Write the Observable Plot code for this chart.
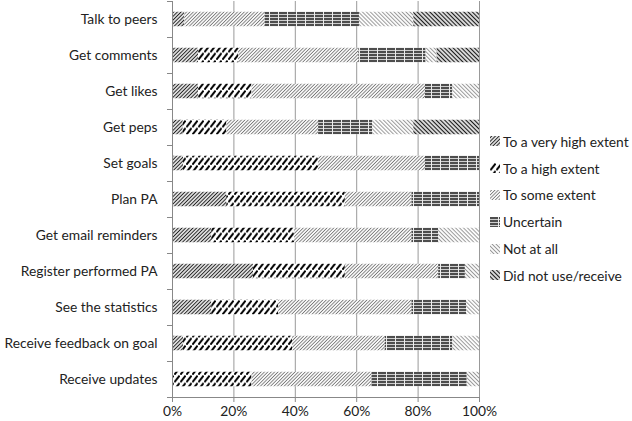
<!DOCTYPE html>
<html><head><meta charset="utf-8">
<script src="https://cdn.jsdelivr.net/npm/d3@7"></script>
<script src="https://cdn.jsdelivr.net/npm/@observablehq/plot@0.6"></script>
<style>
body{margin:0;background:#fff;}
#wrap{position:relative;width:632px;height:421px;}
#legend{position:absolute;left:490px;top:128px;font-family:Lato,sans-serif;font-size:13.8px;color:#222;}
.item{display:flex;align-items:center;height:26.8px;white-space:nowrap;}
.item svg{margin-right:3px;flex:none;}
</style></head><body>
<svg width="0" height="0" style="position:absolute">
<defs>
<pattern id="pat0" patternUnits="userSpaceOnUse" width="2.6" height="2.6" patternTransform="rotate(45)"><rect width="2.6" height="2.6" fill="#fff"/><line x1="1.3" y1="0" x2="1.3" y2="2.6" stroke="#222" stroke-width="1.15"/></pattern>
<pattern id="pat1" patternUnits="userSpaceOnUse" width="6" height="7.5"><rect width="6" height="7.5" fill="#fff"/><line x1="0.4" y1="7.2" x2="5.6" y2="0.6" stroke="#000" stroke-width="2"/></pattern>
<pattern id="pat2" patternUnits="userSpaceOnUse" width="2.4" height="2.4" patternTransform="rotate(45)"><rect width="2.4" height="2.4" fill="#fff"/><line x1="1.2" y1="0" x2="1.2" y2="2.4" stroke="#777" stroke-width="0.9"/></pattern>
<pattern id="pat3" patternUnits="userSpaceOnUse" width="9" height="3"><rect width="9" height="3" fill="#4d4d4d"/><rect y="2" width="9" height="0.9" fill="#ddd"/><rect x="8" width="1" height="3" fill="#eee"/></pattern>
<pattern id="pat4" patternUnits="userSpaceOnUse" width="2.8" height="2.8" patternTransform="rotate(-45)"><rect width="2.8" height="2.8" fill="#fff"/><line x1="1.4" y1="0" x2="1.4" y2="2.8" stroke="#999" stroke-width="1"/></pattern>
<pattern id="pat5" patternUnits="userSpaceOnUse" width="3" height="3" patternTransform="rotate(-45)"><rect width="3" height="3" fill="#fff"/><line x1="1.5" y1="0" x2="1.5" y2="3" stroke="#1a1a1a" stroke-width="1.35"/></pattern>
</defs></svg>
<div id="wrap"><div id="legend"></div></div>
<script>
const tasks = ["Talk to peers","Get comments","Get likes","Get peps","Set goals","Plan PA","Get email reminders","Register performed PA","See the statistics","Receive feedback on goal","Receive updates"];
const levels = ["To a very high extent","To a high extent","To some extent","Uncertain","Not at all","Did not use/receive"];
const veryHigh  = [4, 8.5, 8.5, 3.5, 3.6, 17.7, 12.8, 26.4, 12.8, 3.6, 0];
const high      = [0, 13, 17.4, 14.2, 44, 38.6, 27, 29.9, 21.8, 35.5, 25.9];
const some      = [26.2, 39.2, 56.5, 29.9, 34.8, 21.7, 38.2, 30.4, 43.4, 30.2, 39.1];
const uncertain = [30.7, 21.9, 8.9, 17.6, 17.6, 22, 8.7, 8.7, 17.8, 22, 31];
const notAtAll  = [17.7, 3.6, 8.7, 13.4, 0, 0, 13.3, 4.6, 4.2, 8.7, 4];
const didNotUse = [21.4, 13.8, 0, 21.4, 0, 0, 0, 0, 0, 0, 0];
const xTicks = [0, 20, 40, 60, 80, 100];

const series = [veryHigh, high, some, uncertain, notAtAll, didNotUse];
const rows = [];
tasks.forEach((t, i) => series.forEach((s, k) => rows.push({task: t, level: levels[k], k, value: s[i]})));

const chart = Plot.plot({
  width: 632, height: 421,
  marginLeft: 172, marginRight: 153, marginTop: 1, marginBottom: 24,
  style: {fontFamily: "Lato, sans-serif", fontSize: "13.8px", color: "#222", background: "transparent"},
  x: {domain: [0, 100]},
  y: {domain: tasks, padding: 0},
  color: {type: "identity"},
  marks: [
    Plot.ruleX(xTicks.slice(1), {stroke: "#999"}),
    Plot.barX(rows, {y: "task", x: "value", fill: d => `url(#pat${d.k})`, insetTop: 10.75, insetBottom: 10.75}),
    Plot.ruleX([0], {stroke: "#888"}),
    Plot.ruleY(tasks, {y: d => d, x1: 0, x2: -1.63, dy: -18, stroke: "#888"}),
    Plot.ruleY([tasks[tasks.length - 1]], {y: d => d, x1: -1.63, x2: 100, dy: 18, stroke: "#888"}),
    Plot.axisX({ticks: xTicks, tickFormat: d => d + "%", tickSize: 5, tickPadding: 4, stroke: "#888", fill: "#222", label: null}),
    Plot.axisY({tickSize: 0, tickPadding: 15, fill: "#222", label: null})
  ]
});
document.getElementById("wrap").prepend(chart);

const legend = document.getElementById("legend");
levels.forEach((l, k) => {
  const item = document.createElement("div");
  item.className = "item";
  item.innerHTML = `<svg width="10" height="10"><rect width="10" height="10" fill="url(#pat${k})"/></svg><span>${l}</span>`;
  legend.appendChild(item);
});
</script>
</body></html>
